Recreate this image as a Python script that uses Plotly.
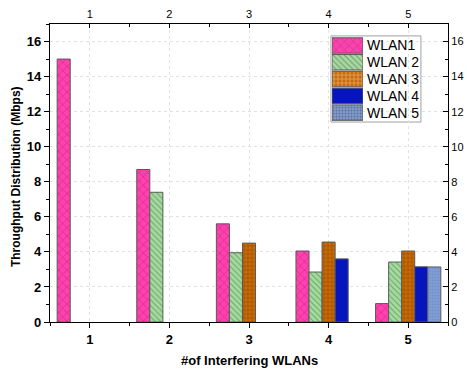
import plotly.graph_objects as go

# Number of interfering WLANs (x categories)
n_interfering = [1, 2, 3, 4, 5]

# Throughput per WLAN (Mbps); None where that WLAN is not present
wlan1 = [15.0, 8.7, 5.6, 4.05, 1.05]
wlan2 = [None, 7.4, 3.95, 2.85, 3.42]
wlan3 = [None, None, 4.5, 4.56, 4.05]
wlan4 = [None, None, None, 3.6, 3.15]
wlan5 = [None, None, None, None, 3.14]

series_names = ["WLAN1", "WLAN 2", "WLAN 3", "WLAN 4", "WLAN 5"]
y_ticks = [0, 2, 4, 6, 8, 10, 12, 14, 16]

FONT = "Liberation Sans, Arial, sans-serif"

fill_colors = ["#FF40AE", "#A6DBA0", "#C96A05", "#0615BE", "#7F9DD4"]
pattern_shapes = ["x", "\\", "+", "", "."]
pattern_colors = ["#8A1450", "#2F6A2F", "#6B3000", "#0615BE", "#6A86C0"]
pattern_sizes = [6, 4, 4, 4, 3]
pattern_solid = [0.18, 0.25, 0.3, 0.2, 0.4]
EDGE = "#5A5A5A"

fig = go.Figure()
for i, (name, vals) in enumerate(zip(series_names, [wlan1, wlan2, wlan3, wlan4, wlan5])):
    fig.add_trace(go.Bar(
        x=n_interfering, y=vals, name=name, showlegend=False,
        marker=dict(
            color=fill_colors[i], line=dict(color=EDGE, width=1),
            pattern=dict(shape=pattern_shapes[i], fgcolor=pattern_colors[i],
                         size=pattern_sizes[i], solidity=pattern_solid[i]),
        ),
    ))

# invisible trace so the mirrored top/right axes render with their own scales
fig.add_trace(go.Scatter(x=[None], y=[None], xaxis="x2", yaxis="y2", showlegend=False, hoverinfo="skip"))

# legend: large patterned swatches on a small dedicated subplot, labels as its tick text
fig.add_trace(go.Bar(
    x=[1] * len(series_names), y=series_names, orientation="h", width=0.92,
    xaxis="x3", yaxis="y3", showlegend=False, hoverinfo="skip",
    marker=dict(
        color=fill_colors, line=dict(color=EDGE, width=1),
        pattern=dict(shape=pattern_shapes, fgcolor=pattern_colors,
                     size=pattern_sizes, solidity=pattern_solid),
    ),
))

axis_common = dict(showline=True, linecolor="black", linewidth=1.3, zeroline=False, automargin=False)
GRID = dict(showgrid=True, gridcolor="#E2E2E2", griddash="dot", gridwidth=1)

fig.update_layout(
    width=467, height=372,
    margin=dict(l=50, r=19, t=24, b=50),
    paper_bgcolor="white", plot_bgcolor="white",
    barmode="group", bargap=0.18, bargroupgap=0,
    font=dict(family=FONT, color="black"),
    showlegend=False,
    xaxis=dict(
        **axis_common, **GRID,
        range=[0.5, 5.5], tickmode="array", tickvals=n_interfering,
        ticks="outside", ticklen=5, tickwidth=1, tickcolor="black",
        minor=dict(ticks="outside", ticklen=3, dtick=0.5, tick0=0.5, tickcolor="black", showgrid=False),
        tickfont=dict(size=13, family=FONT, weight="bold"),
    ),
    xaxis2=dict(
        **axis_common,
        overlaying="x", side="top", anchor="y",
        range=[0.5, 5.5], tickmode="array", tickvals=n_interfering,
        ticks="inside", ticklen=4, tickwidth=1, tickcolor="black",
        minor=dict(ticks="inside", ticklen=3, dtick=0.5, tick0=0.5, tickcolor="black", showgrid=False),
        showgrid=False,
        tickfont=dict(size=11, family=FONT),
    ),
    yaxis=dict(
        **axis_common, **GRID,
        range=[0, 17], tickmode="array", tickvals=y_ticks,
        ticks="outside", ticklen=5, tickwidth=1, tickcolor="black",
        minor=dict(ticks="outside", ticklen=3, dtick=1, tick0=0, tickcolor="black", showgrid=False),
        tickfont=dict(size=13, family=FONT, weight="bold"),
    ),
    yaxis2=dict(
        **axis_common,
        overlaying="y", side="right", anchor="x",
        range=[0, 17], tickmode="array", tickvals=y_ticks,
        ticks="inside", ticklen=5, tickwidth=1, tickcolor="black",
        minor=dict(ticks="inside", ticklen=3, dtick=1, tick0=0, tickcolor="black", showgrid=False),
        showgrid=False,
        tickfont=dict(size=11, family=FONT),
    ),
    xaxis3=dict(
        domain=[0.7085, 0.7864], anchor="y3", range=[0, 1],
        visible=False, fixedrange=True, automargin=False,
    ),
    yaxis3=dict(
        domain=[0.6745, 0.956], anchor="x3", side="right",
        categoryorder="array", categoryarray=series_names[::-1],
        tickmode="array", tickvals=series_names, ticktext=series_names,
        showline=False, showgrid=False, zeroline=False, ticks="",
        ticklabelstandoff=3,
        tickfont=dict(size=14, family=FONT), fixedrange=True, automargin=False,
    ),
    shapes=[dict(
        type="rect", xref="paper", yref="paper",
        x0=0.706, x1=0.932, y0=0.671, y1=0.960,
        line=dict(color="#A0A0A0", width=1), fillcolor="white", layer="between",
    )],
    annotations=[
        dict(text="#of Interfering WLANs", xref="paper", yref="paper",
             x=0.5, y=-0.128, xanchor="center", yanchor="middle", showarrow=False,
             font=dict(size=13, family=FONT, weight="bold")),
        dict(text="Throughput Distribution (Mbps)", xref="paper", yref="paper",
             x=-0.085, y=0.487, xanchor="center", yanchor="middle", textangle=-90,
             showarrow=False, font=dict(size=12, family=FONT, weight="bold")),
    ],
)

fig.write_html("out.html")
